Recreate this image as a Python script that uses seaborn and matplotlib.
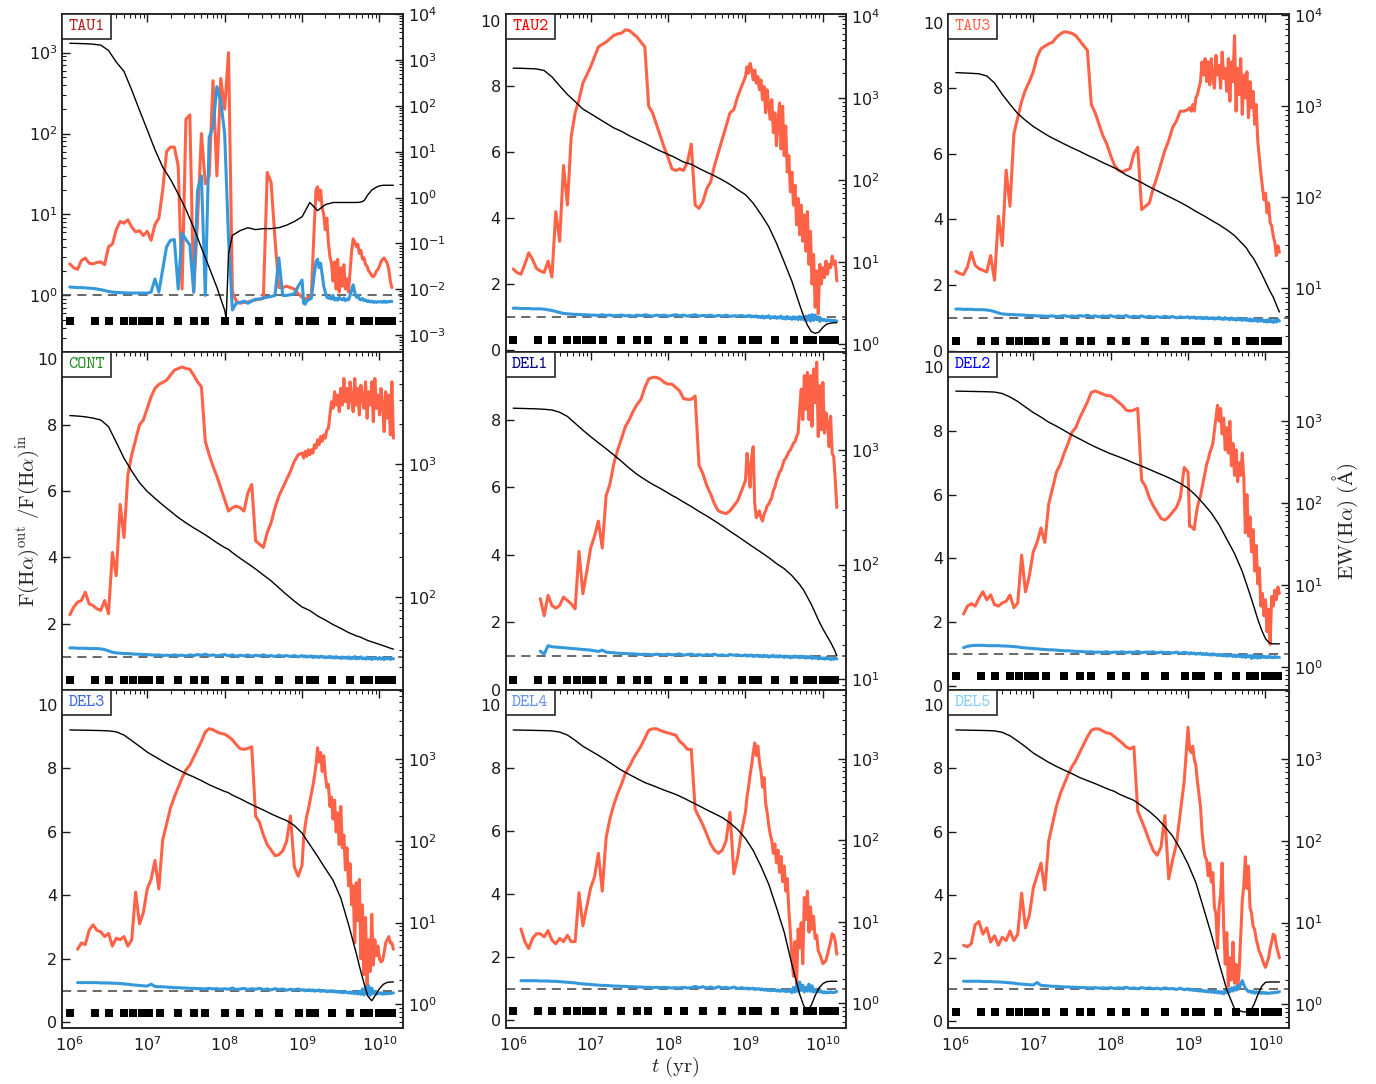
import numpy as np
import pandas as pd
import matplotlib
matplotlib.use("Agg")
import matplotlib.pyplot as plt
import seaborn as sns
from matplotlib.patches import Rectangle
from matplotlib.ticker import (LogLocator, FixedLocator, NullLocator,
                               NullFormatter, FormatStrFormatter)

nan = np.nan

# ---------------------------------------------------------------------------
# Sampling grid (log10 of age in yr) shared by the Halpha flux-ratio curves
# ---------------------------------------------------------------------------
LOG_AGE = [
    6.00, 6.05, 6.10, 6.15, 6.20, 6.25, 6.30, 6.35, 6.40, 6.45,
    6.50, 6.55, 6.60, 6.65, 6.70, 6.75, 6.80, 6.85, 6.90, 6.95,
    7.00, 7.05, 7.10, 7.15, 7.20, 7.25, 7.30, 7.35, 7.40, 7.45,
    7.50, 7.55, 7.60, 7.65, 7.70, 7.75, 7.80, 7.85, 7.90, 7.95,
    8.00, 8.05, 8.10, 8.15, 8.20, 8.25, 8.30, 8.35, 8.40, 8.45,
    8.50, 8.55, 8.60, 8.65, 8.70, 8.75, 8.80, 8.85, 8.90, 8.95,
    9.00, 9.02, 9.04, 9.06, 9.08, 9.10, 9.12, 9.14, 9.16, 9.18,
    9.20, 9.22, 9.24, 9.26, 9.28, 9.30, 9.32, 9.34, 9.36, 9.38,
    9.40, 9.42, 9.44, 9.46, 9.48, 9.50, 9.52, 9.54, 9.56, 9.58,
    9.60, 9.62, 9.64, 9.66, 9.68, 9.70, 9.72, 9.74, 9.76, 9.78,
    9.80, 9.82, 9.84, 9.86, 9.88, 9.90, 9.92, 9.94, 9.96, 9.98,
    10.00, 10.02, 10.04, 10.06, 10.08, 10.10, 10.12, 10.14, 10.16, 10.18,
]

# Grid (log10 age) for the equivalent-width curves
LOG_AGE_EW = [
    6.0, 6.1, 6.2, 6.3, 6.4, 6.5, 6.6, 6.7, 6.8, 6.9,
    7.0, 7.1, 7.2, 7.3, 7.4, 7.5, 7.6, 7.7, 7.8, 7.9,
    8.0, 8.02, 8.05, 8.1, 8.2, 8.3, 8.4, 8.5, 8.6, 8.7,
    8.8, 8.9, 9.0, 9.1, 9.2, 9.3, 9.4, 9.5, 9.6, 9.7,
    9.75, 9.8, 9.85, 9.9, 9.95, 10.0, 10.05, 10.1, 10.15, 10.18,
]

# Ages of the tabulated spectra (black squares)
SPECTRA_AGE = [1.0e6, 2.1e6, 3.2e6, 5.0e6, 6.6e6, 8.6e6, 1.05e7, 1.45e7,
               2.5e7, 4.0e7, 5.5e7, 1.0e8, 1.6e8, 2.8e8, 5.0e8, 9.0e8,
               1.25e9, 1.45e9, 2.4e9, 4.2e9, 6.3e9, 7.4e9, 1.0e10,
               1.25e10, 1.45e10]

# ---------------------------------------------------------------------------
# F(Ha)_out / F(Ha)_in : unresolved (red) and resolved (blue) ratios
# ---------------------------------------------------------------------------
TAU1_RED = [
    2.45, 2.20, 2.10, 2.70, 2.90, 2.50, 2.45, 2.55, 2.60, 2.40,
    4.00, 4.30, 6.50, 8.20, 7.80, 8.60, 7.00, 6.10, 6.30, 5.50,
    6.20, 4.80, 7.50, 9.00, 20.0, 60.0, 68.0, 68.0, 40.0, 1.20,
    150., 170., 1.10, 8.50, 100., 24.0, 30.0, 450., 30.0, 480.,
    200., 1000., 1.10, 0.85, 0.80, 0.82, 0.83, 0.86, 0.88, 0.90,
    0.92, 33.0, 25.0, 5.00, 1.25, 1.25, 1.30, 1.25, 1.20, 1.05,
    0.95, 0.92, 0.90, 0.92, 0.95, 0.95, 1.00, 3.00, 8.00, 20.0,
    22.0, 15.0, 20.0, 12.0, 10.0, 6.50, 9.00, 4.50, 3.00, 2.50,
    1.50, 2.60, 1.20, 2.80, 1.10, 2.20, 1.30, 2.40, 1.20, 1.60,
    1.10, 2.00, 3.50, 5.00, 4.60, 4.00, 4.30, 3.30, 3.60, 2.80,
    2.90, 2.40, 2.30, 2.00, 1.90, 1.75, 1.70, 1.80, 2.00, 2.10,
    2.30, 2.60, 2.80, 2.90, 2.70, 2.50, 2.10, 1.50, 1.25, nan,
]
TAU1_BLUE = [
    1.27, 1.26, 1.25, 1.25, 1.24, 1.23, 1.22, 1.20, 1.18, 1.15,
    1.12, 1.10, 1.09, 1.08, 1.08, 1.07, 1.07, 1.07, 1.07, 1.07,
    1.07, 1.10, 1.60, 1.10, 2.10, 4.00, 4.80, 4.90, 1.20, 5.90,
    4.90, 4.20, 1.10, 20.0, 30.0, 1.00, 90.0, 120., 380., 250.,
    100., 5.00, 0.66, 0.80, 0.82, 0.85, 0.80, 0.85, 0.90, 0.90,
    0.93, 0.95, 0.97, 1.00, 2.90, 1.00, 1.00, 1.02, 1.05, 1.30,
    1.55, 0.80, 0.78, 0.85, 0.88, 0.90, 0.92, 1.30, 1.90, 2.60,
    2.80, 2.20, 2.50, 1.80, 1.30, 1.10, 0.95, 0.92, 0.95, 0.90,
    1.00, 0.88, 0.92, 0.87, 0.95, 0.90, 0.88, 0.93, 0.86, 0.90,
    0.88, 1.00, 1.15, 1.35, 1.10, 0.95, 1.00, 0.90, 0.88, 0.92,
    0.86, 0.88, 0.84, 0.86, 0.83, 0.85, 0.82, 0.84, 0.82, 0.84,
    0.83, 0.84, 0.82, 0.85, 0.82, 0.84, 0.83, 0.85, 0.84, nan,
]

TAU2_RED = [
    2.46, 2.35, 2.30, 2.60, 2.95, 2.75, 2.48, 2.40, 2.35, 2.70,
    2.22, 4.20, 3.30, 5.60, 4.40, 6.50, 7.20, 7.60, 8.10, 8.35,
    8.60, 8.90, 9.20, 9.28, 9.35, 9.45, 9.55, 9.60, 9.62, 9.72,
    9.70, 9.60, 9.50, 9.35, 9.20, 7.40, 7.20, 6.85, 6.50, 6.15,
    5.85, 5.50, 5.45, 5.50, 5.45, 5.70, 6.25, 4.40, 4.30, 4.50,
    4.90, 5.10, 5.60, 6.00, 6.40, 6.80, 7.20, 7.30, 7.70, 8.00,
    8.30, 8.60, 8.40, 8.70, 8.50, 8.20, 8.50, 8.10, 8.30, 7.90,
    8.20, 7.60, 8.00, 7.20, 7.90, 7.40, 7.00, 7.60, 6.60, 7.20,
    6.20, 6.90, 7.50, 6.10, 7.40, 5.90, 6.80, 5.40, 5.90, 4.80,
    5.40, 4.40, 5.00, 3.80, 4.60, 3.50, 4.40, 3.30, 4.10, 3.00,
    4.20, 2.60, 3.60, 2.00, 2.90, 1.30, 2.40, 1.10, 2.60, 2.00,
    2.50, 2.20, 2.70, 2.30, 2.60, 2.50, 2.85, 2.60, 2.70, 2.10,
]
TAU2_BLUE = [
    1.27, 1.27, 1.26, 1.26, 1.26, 1.25, 1.25, 1.25, 1.24, 1.22,
    1.20, 1.17, 1.14, 1.11, 1.10, 1.09, 1.08, 1.08, 1.07, 1.07,
    1.06, 1.06, 1.05, 1.07, 1.05, 1.06, 1.04, 1.05, 1.06, 1.04,
    1.05, 1.03, 1.06, 1.04, 1.07, 1.05, 1.03, 1.06, 1.04, 1.06,
    1.03, 1.05, 1.07, 1.04, 1.06, 1.03, 1.05, 1.07, 1.03, 1.05,
    1.04, 1.06, 1.02, 1.05, 1.03, 1.06, 1.02, 1.04, 1.03, 1.05,
    1.01, 1.04, 1.02, 1.05, 1.00, 1.03, 1.01, 1.04, 0.99, 1.02,
    0.98, 1.03, 0.97, 1.02, 0.99, 1.04, 0.96, 1.01, 0.98, 1.02,
    0.96, 1.01, 0.97, 1.03, 0.95, 1.00, 0.94, 1.02, 0.95, 0.99,
    0.93, 1.01, 0.94, 1.00, 0.92, 1.02, 0.93, 0.99, 0.91, 1.03,
    0.90, 1.05, 0.88, 1.08, 0.90, 1.06, 0.92, 1.00, 0.87, 0.95,
    0.90, 0.93, 0.88, 0.92, 0.89, 0.91, 0.88, 0.90, 0.89, 0.88,
]

TAU3_RED = [
    2.42, 2.35, 2.32, 2.55, 3.00, 2.60, 2.50, 2.45, 2.40, 2.90,
    2.15, 4.10, 3.20, 5.50, 4.40, 6.60, 7.10, 7.60, 7.95, 8.20,
    8.50, 8.95, 9.20, 9.28, 9.35, 9.40, 9.55, 9.65, 9.72, 9.70,
    9.67, 9.60, 9.45, 9.30, 9.15, 7.50, 7.25, 6.90, 6.55, 6.30,
    5.95, 5.65, 5.50, 5.45, 5.50, 5.55, 6.00, 6.20, 4.30, 4.40,
    4.50, 4.95, 5.30, 5.70, 6.10, 6.40, 6.80, 7.00, 7.30, 7.30,
    7.35, 7.40, 7.30, 7.50, 7.30, 7.70, 7.80, 8.00, 8.20, 8.80,
    8.40, 8.90, 8.20, 8.80, 8.10, 8.90, 8.30, 8.00, 9.00, 8.40,
    8.70, 8.00, 9.10, 8.30, 8.60, 7.90, 8.90, 7.60, 8.80, 8.20,
    9.60, 7.30, 8.60, 7.80, 8.90, 7.20, 8.40, 7.70, 8.50, 7.10,
    8.20, 7.40, 7.90, 6.90, 7.50, 6.40, 5.90, 5.40, 5.00, 4.60,
    4.80, 4.20, 4.50, 3.90, 3.80, 3.50, 3.30, 2.90, 3.20, 3.00,
]
TAU3_BLUE = [
    1.27, 1.27, 1.26, 1.26, 1.26, 1.25, 1.25, 1.25, 1.24, 1.22,
    1.19, 1.15, 1.12, 1.11, 1.10, 1.10, 1.09, 1.09, 1.08, 1.07,
    1.07, 1.06, 1.06, 1.05, 1.05, 1.06, 1.04, 1.05, 1.07, 1.04,
    1.06, 1.04, 1.07, 1.05, 1.08, 1.04, 1.06, 1.03, 1.06, 1.04,
    1.07, 1.03, 1.06, 1.04, 1.07, 1.02, 1.05, 1.03, 1.06, 1.02,
    1.05, 1.02, 1.04, 1.01, 1.05, 1.02, 1.04, 1.00, 1.03, 1.01,
    1.03, 0.99, 1.02, 1.00, 1.03, 0.98, 1.01, 0.99, 1.02, 0.97,
    1.01, 0.98, 1.02, 0.97, 1.00, 0.98, 1.01, 0.96, 1.00, 0.97,
    1.02, 0.96, 0.99, 0.95, 1.01, 0.96, 0.98, 0.94, 1.00, 0.95,
    0.98, 0.93, 0.99, 0.94, 0.97, 0.92, 0.98, 0.93, 0.96, 0.91,
    0.97, 0.90, 0.95, 0.91, 0.96, 0.89, 0.94, 0.90, 0.95, 0.88,
    0.93, 0.87, 0.95, 0.88, 0.92, 0.86, 0.94, 0.87, 0.95, 0.90,
]

CONT_RED = [
    2.27, 2.50, 2.65, 2.70, 2.95, 2.60, 2.55, 2.45, 2.40, 2.70,
    2.30, 4.15, 3.45, 5.60, 4.60, 6.50, 7.10, 7.55, 8.00, 8.15,
    8.50, 8.85, 9.10, 9.22, 9.28, 9.35, 9.50, 9.65, 9.70, 9.75,
    9.70, 9.68, 9.50, 9.30, 9.15, 7.50, 7.10, 6.75, 6.45, 6.10,
    5.75, 5.40, 5.50, 5.55, 5.50, 5.40, 5.95, 6.20, 4.50, 4.40,
    4.30, 4.75, 5.05, 5.50, 5.85, 6.10, 6.35, 6.60, 6.90, 7.10,
    7.15, 7.00, 7.20, 7.05, 7.25, 7.10, 7.25, 7.15, 7.40, 7.30,
    7.55, 7.40, 7.65, 7.50, 7.70, 7.60, 7.85, 7.90, 8.30, 8.70,
    8.50, 9.00, 8.60, 8.90, 8.40, 9.10, 8.60, 9.40, 8.70, 9.10,
    8.50, 9.30, 8.80, 8.40, 9.40, 8.60, 9.10, 8.30, 9.20, 8.80,
    8.50, 9.30, 8.20, 9.00, 8.60, 9.30, 8.10, 9.40, 8.50, 8.90,
    8.30, 9.10, 8.60, 7.80, 9.00, 8.20, 8.90, 7.70, 9.30, 7.60,
]
CONT_BLUE = [
    1.27, 1.27, 1.26, 1.26, 1.26, 1.25, 1.25, 1.25, 1.24, 1.22,
    1.18, 1.14, 1.12, 1.11, 1.10, 1.10, 1.09, 1.08, 1.08, 1.07,
    1.07, 1.06, 1.05, 1.06, 1.04, 1.05, 1.04, 1.06, 1.04, 1.05,
    1.03, 1.06, 1.04, 1.07, 1.05, 1.08, 1.04, 1.06, 1.03, 1.05,
    1.07, 1.03, 1.06, 1.02, 1.05, 1.03, 1.06, 1.02, 1.05, 1.03,
    1.06, 1.02, 1.04, 1.01, 1.05, 1.02, 1.04, 1.01, 1.04, 1.00,
    1.04, 1.00, 1.03, 0.99, 1.02, 1.00, 1.03, 0.98, 1.02, 0.99,
    1.01, 0.98, 1.02, 0.99, 1.01, 0.97, 1.00, 0.98, 1.02, 0.97,
    1.00, 0.96, 1.01, 0.97, 0.99, 0.95, 1.00, 0.96, 0.99, 0.95,
    1.00, 0.94, 0.98, 0.95, 1.01, 0.94, 0.98, 0.95, 1.00, 0.94,
    0.97, 0.93, 0.99, 0.94, 0.97, 0.92, 0.98, 0.94, 0.96, 0.93,
    0.98, 0.93, 0.97, 0.92, 0.96, 0.94, 0.98, 0.92, 0.96, 0.94,
]

DEL1_RED = [
    nan, nan, nan, nan, nan, nan, nan, 2.70, 2.20, 2.80,
    2.50, 2.42, 2.50, 2.75, 2.65, 2.55, 2.40, 4.10, 2.85, 3.50,
    4.20, 4.55, 5.00, 4.20, 5.75, 6.10, 6.70, 7.10, 7.45, 7.80,
    8.00, 8.25, 8.45, 8.60, 8.95, 9.20, 9.25, 9.25, 9.20, 9.10,
    9.05, 9.05, 8.95, 8.85, 8.62, 8.60, 8.60, 8.70, 6.65, 6.40,
    6.05, 5.80, 5.50, 5.30, 5.25, 5.22, 5.30, 5.45, 5.60, 5.90,
    6.20, 7.00, 6.60, 6.00, 6.90, 7.20, 5.50, 5.10, 5.20, 5.30,
    5.10, 5.00, 5.20, 5.30, 5.45, 5.50, 5.60, 5.70, 5.90, 6.00,
    6.20, 6.30, 6.45, 6.50, 6.65, 6.80, 6.85, 6.95, 7.05, 7.10,
    7.20, 7.30, 7.35, 7.50, 7.60, 8.30, 8.90, 8.00, 9.30, 8.30,
    9.40, 8.00, 9.30, 7.80, 9.50, 8.50, 9.70, 7.50, 9.00, 7.70,
    9.10, 7.60, 8.20, 7.90, 7.20, 8.10, 7.00, 6.90, 6.20, 5.40,
]
DEL1_BLUE = [
    nan, nan, nan, nan, nan, nan, nan, 1.15, 1.06, 1.31,
    1.28, 1.27, 1.26, 1.25, 1.24, 1.23, 1.22, 1.21, 1.20, 1.19,
    1.18, 1.16, 1.14, 1.18, 1.12, 1.11, 1.10, 1.09, 1.08, 1.08,
    1.07, 1.07, 1.06, 1.05, 1.06, 1.05, 1.04, 1.06, 1.05, 1.04,
    1.06, 1.04, 1.05, 1.07, 1.03, 1.05, 1.06, 1.03, 1.05, 1.02,
    1.05, 1.03, 1.06, 1.02, 1.04, 1.01, 1.05, 1.03, 1.04, 1.01,
    1.04, 1.00, 1.03, 1.01, 1.04, 0.99, 1.02, 1.00, 1.03, 0.99,
    1.02, 0.98, 1.03, 0.99, 1.02, 0.97, 1.01, 0.99, 1.03, 0.98,
    1.01, 0.97, 1.02, 0.98, 1.00, 0.96, 1.01, 0.97, 1.00, 0.95,
    1.00, 0.96, 1.01, 0.97, 0.99, 0.95, 1.00, 0.96, 0.99, 0.94,
    0.99, 0.95, 1.00, 0.93, 0.98, 0.94, 0.97, 0.92, 0.96, 0.93,
    0.95, 0.91, 0.96, 0.92, 0.94, 0.90, 0.93, 0.91, 0.94, 0.92,
]

DEL2_RED = [
    nan, nan, 2.25, 2.50, 2.58, 2.50, 2.75, 2.95, 2.70, 2.85,
    2.55, 2.50, 2.60, 2.65, 2.85, 2.45, 2.60, 4.10, 2.95, 3.45,
    4.20, 4.50, 4.95, 4.50, 5.70, 6.20, 6.70, 6.95, 7.30, 7.60,
    7.95, 8.10, 8.40, 8.65, 8.90, 9.20, 9.25, 9.20, 9.15, 9.10,
    9.10, 9.00, 8.90, 8.80, 8.65, 8.62, 8.65, 8.70, 6.45, 6.25,
    5.90, 5.65, 5.45, 5.25, 5.20, 5.30, 5.45, 5.60, 5.90, 6.85,
    6.70, 5.00, 5.00, 4.95, 4.90, 5.30, 5.60, 5.80, 5.95, 6.20,
    6.45, 6.70, 6.95, 7.10, 7.30, 7.45, 7.60, 8.00, 8.40, 8.80,
    8.30, 8.70, 7.90, 8.40, 7.40, 8.10, 7.30, 8.30, 6.90, 7.60,
    6.60, 7.40, 6.40, 7.00, 6.60, 7.30, 6.50, 4.80, 6.00, 4.70,
    5.30, 4.20, 4.90, 3.60, 4.40, 3.20, 3.70, 2.50, 2.90, 2.20,
    2.70, 1.70, 2.40, 1.30, 2.80, 2.50, 3.00, 2.70, 3.10, 2.90,
]
DEL2_BLUE = [
    nan, nan, 1.20, 1.24, 1.26, 1.27, 1.27, 1.27, 1.26, 1.26,
    1.26, 1.26, 1.25, 1.25, 1.24, 1.23, 1.22, 1.20, 1.19, 1.18,
    1.17, 1.16, 1.15, 1.14, 1.13, 1.13, 1.12, 1.11, 1.10, 1.10,
    1.09, 1.08, 1.08, 1.07, 1.06, 1.07, 1.05, 1.06, 1.05, 1.07,
    1.04, 1.06, 1.05, 1.07, 1.04, 1.06, 1.05, 1.08, 1.04, 1.06,
    1.05, 1.07, 1.03, 1.06, 1.04, 1.05, 1.03, 1.06, 1.02, 1.05,
    1.03, 1.00, 1.04, 1.01, 1.03, 0.99, 1.02, 1.00, 1.03, 0.98,
    1.01, 0.98, 1.02, 0.97, 1.00, 0.96, 1.01, 0.97, 0.99, 0.95,
    0.99, 0.95, 0.98, 0.94, 0.99, 0.93, 0.97, 0.94, 0.96, 0.92,
    0.97, 0.91, 0.96, 0.92, 0.95, 0.90, 0.97, 0.89, 0.96, 0.91,
    0.95, 0.86, 0.96, 0.88, 0.94, 0.87, 0.93, 0.88, 0.94, 0.89,
    0.92, 0.88, 0.93, 0.89, 0.91, 0.88, 0.92, 0.89, 0.90, 0.89,
]

DEL3_RED = [
    nan, nan, 2.30, 2.50, 2.45, 2.90, 3.07, 2.90, 2.85, 2.70,
    2.80, 2.40, 2.65, 2.60, 2.70, 2.40, 2.60, 4.10, 3.10, 3.45,
    4.20, 4.50, 5.10, 4.20, 5.75, 6.25, 6.75, 7.10, 7.40, 7.70,
    7.95, 8.10, 8.35, 8.60, 8.85, 9.15, 9.25, 9.22, 9.15, 9.10,
    9.08, 9.00, 8.90, 8.75, 8.62, 8.60, 8.63, 8.68, 6.50, 6.30,
    5.90, 5.60, 5.43, 5.25, 5.28, 5.40, 5.70, 6.50, 4.90, 4.60,
    4.95, 5.80, 6.20, 6.50, 6.70, 6.95, 7.20, 7.45, 7.75, 8.10,
    8.65, 8.20, 8.50, 7.90, 8.40, 7.80, 7.40, 7.50, 6.80, 7.10,
    6.40, 7.00, 6.00, 6.60, 5.60, 6.80, 5.50, 5.90, 4.80, 5.50,
    4.30, 5.00, 3.70, 4.30, 2.50, 4.40, 3.20, 4.50, 2.00, 3.70,
    1.50, 3.30, 1.10, 2.60, 1.60, 3.40, 1.80, 2.60, 2.10, 2.40,
    2.00, 1.90, 1.95, 2.20, 2.50, 2.60, 2.70, 2.50, 2.50, 2.30,
]
DEL3_BLUE = [
    nan, nan, 1.25, 1.25, 1.25, 1.25, 1.25, 1.25, 1.24, 1.24,
    1.24, 1.23, 1.23, 1.22, 1.21, 1.20, 1.18, 1.17, 1.16, 1.15,
    1.14, 1.20, 1.13, 1.12, 1.12, 1.11, 1.10, 1.09, 1.09, 1.08,
    1.08, 1.07, 1.07, 1.06, 1.06, 1.05, 1.07, 1.05, 1.06, 1.04,
    1.06, 1.04, 1.08, 1.03, 1.05, 1.07, 1.03, 1.06, 1.04, 1.07,
    1.03, 1.05, 1.02, 1.06, 1.03, 1.05, 1.01, 1.04, 1.02, 1.05,
    1.01, 1.03, 0.99, 1.02, 1.00, 1.03, 0.99, 1.02, 0.98, 1.01,
    0.99, 1.02, 0.97, 1.01, 0.98, 1.00, 0.96, 0.99, 0.97, 1.00,
    0.96, 0.99, 0.95, 0.98, 0.94, 0.97, 0.93, 0.96, 0.94, 0.95,
    0.92, 0.96, 0.91, 0.95, 0.90, 0.96, 0.89, 0.97, 0.88, 1.05,
    0.86, 1.12, 0.88, 1.15, 0.85, 1.08, 0.90, 0.96, 0.88, 0.94,
    0.90, 0.93, 0.88, 0.92, 0.89, 0.91, 0.90, 0.92, 0.91, 0.93,
]

DEL4_RED = [
    nan, nan, 2.90, 2.50, 2.28, 2.60, 2.75, 2.75, 2.65, 2.85,
    2.55, 2.43, 2.60, 2.50, 2.70, 2.50, 2.50, 4.05, 3.00, 3.60,
    4.20, 4.55, 5.30, 4.10, 5.80, 6.40, 6.85, 7.20, 7.50, 7.85,
    8.05, 8.30, 8.50, 8.70, 8.95, 9.20, 9.25, 9.25, 9.20, 9.15,
    9.12, 9.08, 9.05, 8.85, 8.75, 8.60, 8.60, 6.70, 6.45, 6.20,
    5.90, 5.60, 5.40, 5.30, 5.40, 5.70, 6.60, 4.65, 5.20, 6.00,
    6.60, 7.10, 7.40, 7.80, 8.10, 8.50, 8.80, 8.40, 8.70, 8.20,
    7.90, 7.40, 7.70, 6.90, 6.60, 6.20, 5.90, 5.70, 5.30, 5.60,
    5.00, 5.40, 4.70, 5.20, 4.40, 4.90, 4.10, 4.50, 3.50, 2.80,
    2.00, 1.40, 2.50, 1.10, 2.90, 2.30, 3.10, 1.80, 3.90, 3.20,
    4.10, 2.80, 3.60, 2.90, 3.30, 2.60, 2.70, 2.20, 2.10, 1.95,
    1.80, 1.85, 1.90, 2.10, 2.30, 2.50, 2.75, 2.70, 2.50, 2.10,
]
DEL4_BLUE = [
    nan, nan, 1.26, 1.26, 1.26, 1.26, 1.26, 1.25, 1.25, 1.25,
    1.24, 1.24, 1.23, 1.22, 1.21, 1.20, 1.19, 1.17, 1.16, 1.15,
    1.14, 1.13, 1.12, 1.11, 1.11, 1.10, 1.09, 1.09, 1.08, 1.08,
    1.07, 1.07, 1.06, 1.06, 1.05, 1.05, 1.04, 1.05, 1.04, 1.05,
    1.04, 1.03, 1.04, 1.03, 1.05, 1.03, 1.04, 1.08, 1.04, 1.07,
    1.03, 1.06, 1.02, 1.07, 1.03, 1.05, 1.02, 1.06, 1.01, 1.04,
    1.01, 1.03, 0.99, 1.02, 1.00, 1.02, 0.98, 1.01, 0.99, 1.01,
    0.97, 1.00, 0.96, 0.99, 0.95, 0.98, 0.94, 0.97, 0.95, 0.98,
    0.93, 0.97, 0.92, 0.96, 0.93, 0.97, 0.91, 0.95, 0.92, 0.98,
    0.88, 1.05, 0.90, 1.10, 0.92, 1.22, 0.95, 1.12, 0.90, 1.05,
    0.93, 1.15, 0.92, 1.10, 0.90, 0.98, 0.91, 0.95, 0.90, 0.93,
    0.88, 0.91, 0.87, 0.90, 0.88, 0.91, 0.89, 0.88, 0.90, 0.92,
]

DEL5_RED = [
    nan, nan, 2.40, 2.35, 2.45, 3.05, 3.15, 2.75, 2.95, 2.50,
    2.70, 2.40, 2.65, 2.55, 2.85, 2.55, 2.75, 4.05, 2.95, 3.35,
    4.20, 4.60, 5.00, 4.15, 5.70, 6.25, 6.80, 7.20, 7.50, 7.80,
    8.05, 8.25, 8.50, 8.75, 9.00, 9.20, 9.25, 9.25, 9.18, 9.12,
    9.10, 9.00, 8.90, 8.80, 8.68, 8.62, 8.68, 6.65, 6.35, 6.04,
    5.70, 5.40, 5.25, 5.50, 6.50, 4.50, 5.10, 5.60, 6.60, 7.60,
    9.30, 8.60, 8.50, 8.70, 8.30, 8.10, 7.60, 7.20, 6.80, 6.00,
    5.50, 5.20, 5.10, 4.60, 5.00, 4.40, 4.70, 3.60, 3.40, 2.30,
    3.60, 4.00, 5.00, 3.00, 1.80, 2.80, 1.10, 2.00, 1.30, 2.50,
    1.20, 1.80, 1.00, 1.60, 2.70, 3.80, 4.30, 5.20, 4.20, 4.90,
    3.60, 3.40, 3.00, 2.90, 2.60, 2.40, 2.20, 2.10, 1.95, 1.80,
    1.70, 1.85, 2.00, 2.30, 2.50, 2.75, 2.70, 2.40, 2.20, 2.00,
]
DEL5_BLUE = [
    nan, nan, 1.26, 1.26, 1.26, 1.26, 1.26, 1.25, 1.25, 1.25,
    1.24, 1.24, 1.23, 1.22, 1.21, 1.20, 1.18, 1.17, 1.16, 1.15,
    1.14, 1.22, 1.13, 1.12, 1.11, 1.10, 1.10, 1.09, 1.08, 1.08,
    1.07, 1.07, 1.06, 1.06, 1.05, 1.05, 1.06, 1.04, 1.05, 1.04,
    1.06, 1.03, 1.05, 1.04, 1.07, 1.03, 1.05, 1.02, 1.06, 1.03,
    1.05, 1.02, 1.04, 1.01, 1.05, 1.02, 1.03, 1.00, 1.04, 0.99,
    1.02, 0.98, 1.01, 0.97, 1.00, 0.96, 0.99, 0.95, 0.98, 0.94,
    0.97, 0.93, 0.96, 0.92, 0.95, 0.91, 0.96, 0.90, 0.95, 0.89,
    0.94, 0.88, 0.93, 0.86, 0.95, 0.90, 1.00, 0.92, 1.05, 0.95,
    1.08, 0.98, 1.12, 1.02, 1.18, 1.28, 1.15, 1.05, 0.98, 0.93,
    0.95, 0.90, 0.94, 0.88, 0.93, 0.89, 0.92, 0.87, 0.91, 0.88,
    0.90, 0.87, 0.89, 0.88, 0.90, 0.89, 0.91, 0.90, 0.92, 0.93,
]

# ---------------------------------------------------------------------------
# EW(Halpha) in Angstrom (black, right-hand axis), sampled on LOG_AGE_EW
# ---------------------------------------------------------------------------
TAU1_EW = [
    2300, 2280, 2250, 2200, 2100, 1600, 900, 560, 220, 80,
    30, 11, 4.6, 2.5, 1.2, 0.55, 0.22, 0.08, 0.03, 0.011,
    0.0035, 0.0023, 0.06, 0.15, 0.19, 0.22, 0.20, 0.21, 0.21, 0.22,
    0.25, 0.30, 0.38, 0.78, 0.52, 0.70, 0.78, 0.78, 0.78, 0.78,
    0.79, 0.85, 1.15, 1.45, 1.65, 1.80, 1.85, 1.85, 1.85, 1.85,
]
TAU2_EW = [
    2300, 2290, 2270, 2250, 2150, 1800, 1400, 1100, 900, 730,
    640, 560, 490, 430, 390, 345, 310, 280, 250, 225,
    205, 200, 195, 185, 165, 155, 138, 124, 112, 100,
    88, 76, 66, 52, 38, 27, 17, 10, 5.8, 3.0,
    2.2, 1.7, 1.42, 1.35, 1.4, 1.6, 1.75, 1.8, 1.82, 1.82,
]
TAU3_EW = [
    2340, 2320, 2300, 2270, 2150, 1800, 1350, 1050, 830, 700,
    600, 530, 470, 425, 385, 350, 320, 290, 265, 240,
    220, 216, 210, 200, 176, 160, 145, 130, 118, 107,
    97, 88, 79, 70, 63, 56, 50, 44, 38, 31,
    28, 24, 21, 17.5, 14.5, 11.8, 9.6, 8.0, 6.3, 5.5,
]
CONT_EW = [
    2300, 2280, 2250, 2200, 2130, 1900, 1450, 1100, 880, 720,
    620, 550, 490, 440, 395, 360, 330, 305, 280, 255,
    235, 232, 227, 215, 195, 178, 162, 146, 132, 117,
    104, 93, 84, 79, 72, 67, 62, 58, 54, 51,
    50, 48.5, 47, 46, 45, 44, 43, 42, 41, 40.5,
]
DEL1_EW = [
    2300, 2290, 2280, 2270, 2250, 2220, 2120, 1950, 1700, 1480,
    1300, 1150, 1020, 900, 790, 690, 610, 550, 500, 460,
    420, 412, 400, 385, 350, 320, 290, 265, 240, 217,
    195, 176, 158, 142, 128, 115, 102, 92, 80, 67,
    60, 52, 45, 38, 32, 27.5, 24, 21, 18, 16,
]
DEL2_EW = [
    2300, 2290, 2280, 2270, 2260, 2240, 2150, 1950, 1720, 1470,
    1260, 1110, 960, 860, 760, 670, 600, 535, 480, 435,
    395, 390, 380, 365, 335, 305, 280, 255, 232, 212,
    192, 172, 150, 123, 97, 75, 54, 36, 24, 14.5,
    10.5, 7.6, 5.4, 3.8, 2.8, 2.2, 1.95, 1.9, 1.9, 1.9,
]
DEL3_EW = [
    2300, 2290, 2280, 2270, 2260, 2240, 2180, 1990, 1700, 1450,
    1230, 1080, 950, 840, 750, 670, 610, 550, 490, 445,
    405, 400, 390, 365, 330, 295, 265, 240, 215, 195,
    178, 155, 125, 90, 65, 46, 33, 20, 9.5, 4.2,
    2.7, 1.8, 1.25, 1.1, 1.3, 1.55, 1.75, 1.85, 1.87, 1.87,
]
DEL4_EW = [
    2250, 2240, 2230, 2220, 2210, 2190, 2120, 1950, 1680, 1420,
    1250, 1100, 960, 830, 720, 640, 570, 510, 470, 430,
    395, 390, 380, 365, 330, 295, 265, 236, 212, 190,
    163, 135, 105, 75, 48, 29, 15, 7.5, 3.0, 1.3,
    0.95, 0.81, 0.95, 1.25, 1.55, 1.75, 1.85, 1.87, 1.87, 1.87,
]
DEL5_EW = [
    2300, 2290, 2280, 2270, 2260, 2240, 2150, 1950, 1680, 1430,
    1200, 1050, 920, 820, 740, 670, 600, 550, 505, 460,
    420, 415, 405, 380, 345, 315, 270, 230, 190, 150,
    115, 80, 52, 31, 15, 7.2, 3.2, 1.5, 0.88, 0.81,
    0.80, 0.81, 0.98, 1.3, 1.65, 1.85, 1.87, 1.87, 1.87, 1.87,
]

# Panel names, label colours and axis ranges
NAMES = ["TAU1", "TAU2", "TAU3", "CONT", "DEL1", "DEL2", "DEL3", "DEL4", "DEL5"]
NAME_COLORS = ["#b22222", "#ff0000", "#ff6347", "#228b22", "#000080",
               "#0000ff", "#4169e1", "#6495ed", "#87cefa"]
RED_SERIES = [TAU1_RED, TAU2_RED, TAU3_RED, CONT_RED, DEL1_RED,
              DEL2_RED, DEL3_RED, DEL4_RED, DEL5_RED]
BLUE_SERIES = [TAU1_BLUE, TAU2_BLUE, TAU3_BLUE, CONT_BLUE, DEL1_BLUE,
               DEL2_BLUE, DEL3_BLUE, DEL4_BLUE, DEL5_BLUE]
EW_SERIES = [TAU1_EW, TAU2_EW, TAU3_EW, CONT_EW, DEL1_EW,
             DEL2_EW, DEL3_EW, DEL4_EW, DEL5_EW]
LEFT_YLIM = [(0.2, 3000), (-0.06, 10.2), (-0.04, 10.26), (0.0, 10.2),
             (0.0, 10.0), (-0.13, 10.47), (-0.18, 10.47), (-0.24, 10.48),
             (-0.22, 10.48)]
LEFT_TICKS = [None, [0, 2, 4, 6, 8, 10], [0, 2, 4, 6, 8, 10], [2, 4, 6, 8, 10],
              [0, 2, 4, 6, 8], [0, 2, 4, 6, 8, 10], [0, 2, 4, 6, 8, 10],
              [0, 2, 4, 6, 8, 10], [0, 2, 4, 6, 8, 10]]
RIGHT_YLIM = [(4.3e-4, 1.0e4), (0.8, 1.05e4), (2.0, 1.03e4), (20, 6900),
              (8.07, 7100), (0.52, 6900), (0.51, 7100), (0.50, 6950),
              (0.51, 7100)]
SQUARE_LEVEL = [0.48, 0.3, 0.3, 0.3, 0.3, 0.3, 0.3, 0.3, 0.3]

RED = "#ff6347"
BLUE = "#3498db"

# ---------------------------------------------------------------------------
sns.set_theme(style="white")
plt.rcParams["font.family"] = ["DejaVu Sans"]
plt.rcParams["mathtext.fontset"] = "cm"
plt.rcParams["axes.edgecolor"] = "0.15"
plt.rcParams["axes.linewidth"] = 1.2

FIG_W, FIG_H = 1376, 1084
fig = plt.figure(figsize=(FIG_W / 100, FIG_H / 100), dpi=100)

COL_LEFT = [62.3, 505.7, 948.3]
ROW_TOP = [14.0, 352.0, 690.0]
PANEL_W, PANEL_H = 340.5, 338.0

age = 10 ** np.array(LOG_AGE)
age_ew = 10 ** np.array(LOG_AGE_EW)


def draw_curve(ax, x, y, color, lw, z):
    df = pd.DataFrame({"age": x, "value": y}).dropna()
    sns.lineplot(data=df, x="age", y="value", ax=ax, color=color,
                 linewidth=lw, estimator=None, sort=False, legend=False,
                 zorder=z)


for i, name in enumerate(NAMES):
    r, c = divmod(i, 3)
    rect = [COL_LEFT[c] / FIG_W, 1 - (ROW_TOP[r] + PANEL_H) / FIG_H,
            PANEL_W / FIG_W, PANEL_H / FIG_H]
    ax = fig.add_axes(rect)
    ax.set_xscale("log")
    if i == 0:
        ax.set_yscale("log")
    ax2 = ax.twinx()
    ax2.set_yscale("log")

    # flux ratios
    draw_curve(ax, age, RED_SERIES[i], RED, 2.2, 3)
    draw_curve(ax, age, BLUE_SERIES[i], BLUE, 2.2, 4)
    ax.axhline(1.0, color="0.25", lw=1.1, ls=(0, (6, 4)), zorder=2)
    sns.scatterplot(x=SPECTRA_AGE, y=[SQUARE_LEVEL[i]] * len(SPECTRA_AGE),
                    ax=ax, marker="s", s=32, color="black", linewidth=0,
                    zorder=5, legend=False)

    # equivalent width
    draw_curve(ax2, age_ew, EW_SERIES[i], "black", 1.0, 6)

    for a in (ax, ax2):
        a.set_xlabel("")
        a.set_ylabel("")
    ax.set_xlim(8.0e5, 2.0e10)
    ax.set_ylim(*LEFT_YLIM[i])
    ax2.set_ylim(*RIGHT_YLIM[i])

    # ticks
    ax.xaxis.set_major_locator(LogLocator(base=10, numticks=20))
    ax.xaxis.set_minor_locator(LogLocator(base=10, subs=np.arange(2, 10), numticks=20))
    ax.xaxis.set_minor_formatter(NullFormatter())
    if LEFT_TICKS[i] is not None:
        ax.yaxis.set_major_locator(FixedLocator(LEFT_TICKS[i]))
        ax.yaxis.set_major_formatter(FormatStrFormatter("%d"))
        ax.yaxis.set_minor_locator(NullLocator())
    else:
        ax.yaxis.set_minor_formatter(NullFormatter())
    ax2.yaxis.set_major_locator(LogLocator(base=10, numticks=20))
    ax2.yaxis.set_minor_locator(LogLocator(base=10, subs=np.arange(2, 10), numticks=20))
    ax2.yaxis.set_minor_formatter(NullFormatter())

    ax.tick_params(axis="both", which="both", direction="in", top=True,
                   right=False, labelsize=11.5, colors="0.1")
    ax.tick_params(which="major", length=6, width=1.0)
    ax.tick_params(which="minor", length=3, width=0.8)
    ax.tick_params(axis="x", labelbottom=(r == 2), pad=5)
    ax2.tick_params(axis="y", which="both", direction="in", labelsize=11.5,
                    colors="0.1")
    ax2.tick_params(axis="y", which="major", length=6, width=1.0)
    ax2.tick_params(axis="y", which="minor", length=3, width=0.8)

    # panel name box
    bw, bh = 49 / PANEL_W, 25 / PANEL_H
    ax2.add_patch(Rectangle((0, 1 - bh), bw, bh, transform=ax2.transAxes,
                            facecolor="white", edgecolor="0.15", lw=1.2,
                            zorder=20, clip_on=False))
    ax2.text(bw / 2, 1 - bh / 2, name, transform=ax2.transAxes,
             ha="center", va="center", color=NAME_COLORS[i],
             fontsize=12.5, family="cmtt10", zorder=21)

fig.text(28 / FIG_W, 1 - 521 / FIG_H,
         r"$\mathrm{F(H}\alpha\mathrm{)^{out}}\ /\mathrm{F(H}\alpha\mathrm{)^{in}}$",
         rotation=90, ha="center", va="center", fontsize=15)
fig.text(1345 / FIG_W, 1 - 521 / FIG_H,
         r"$\mathrm{EW(H}\alpha\mathrm{)\ (\AA)}$",
         rotation=90, ha="center", va="center", fontsize=15)
fig.text(675 / FIG_W, 1 - 1067 / FIG_H, r"$t\ \mathrm{(yr)}$",
         ha="center", va="center", fontsize=15)

fig.savefig("out.png", dpi=100)
